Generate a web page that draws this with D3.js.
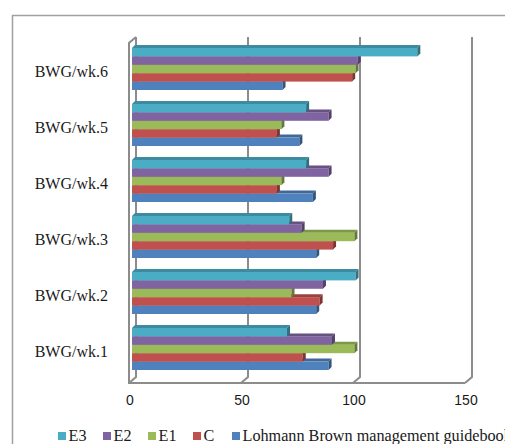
<!DOCTYPE html>
<html>
<head>
<meta charset="utf-8">
<script src="https://cdn.jsdelivr.net/npm/d3@7"></script>
<style>
  body { margin: 0; background: #fff; }
  svg { display: block; }
  .serif { font-family: 'Liberation Serif', 'DejaVu Serif', 'Noto Serif', serif; }
  .sans { font-family: 'Liberation Sans', 'DejaVu Sans', sans-serif; }
</style>
</head>
<body>
<div id="chart"></div>
<script>
// Data (body weight gain per week)
let categories = ['BWG/wk.1', 'BWG/wk.2', 'BWG/wk.3', 'BWG/wk.4', 'BWG/wk.5', 'BWG/wk.6'];
let seriesNames = ['E3', 'E2', 'E1', 'C', 'Lohmann Brown management guidebook'];
let valuesE3 = [69, 99.5, 70, 77.5, 77.5, 127];
let valuesE2 = [89, 85, 75.5, 87.5, 87.5, 100.5];
let valuesE1 = [99, 71, 99, 66.5, 66.5, 99.5];
let valuesC = [76, 83.5, 89.5, 64.5, 64.5, 98];
let valuesL = [87.5, 82, 82, 80.5, 74.5, 67];
let ticks = [0, 50, 100, 150];

let seriesValues = [valuesE3, valuesE2, valuesE1, valuesC, valuesL];
let colors = ['#4BACC6', '#8064A2', '#9BBB59', '#C0504D', '#4F81BD'];

let width = 505;
let height = 444;
let DX = 7, DY = -6;   // depth of the 3D walls
let BD = 3;            // depth of a bar

let svg = d3.select('#chart').append('svg')
    .attr('width', width)
    .attr('height', height);

// outer chart border (right/bottom are off the picture)
svg.append('path')
    .attr('d', 'M12.5,444 L12.5,15.5 L505,15.5')
    .attr('fill', 'none')
    .attr('stroke', '#a0a0a0')
    .attr('stroke-width', 1.5);

// scales: front of floor, back wall, and the bars in the middle
let xFront = d3.scaleLinear().domain([0, 150]).range([129, 465]);
let xBack = v => xFront(v) + DX;
let xBar = d3.scaleLinear().domain([0, 150]).range([132, 469]);

let yBand = d3.scaleBand()
    .domain(categories.slice().reverse())
    .range([41, 377])
    .paddingInner(0.25)
    .paddingOuter(0.125);

let ySeries = d3.scaleBand()
    .domain(seriesNames)
    .range([0, yBand.bandwidth()]);

let floorY = 383;
let topY = 43;
let grid = svg.append('g')
    .attr('fill', 'none')
    .attr('stroke', '#8c8c8c')
    .attr('stroke-width', 2);

// back wall gridlines with their floor diagonals
ticks.forEach(v => {
  grid.append('path')
      .attr('d', `M${xBack(v)},${topY + DY} L${xBack(v)},${floorY + DY} L${xFront(v)},${floorY}`);
});

// floor front edge and left wall
grid.append('path')
    .attr('d', `M${xFront(150)},${floorY} L${xFront(0)},${floorY} L${xFront(0)},${topY} L${xBack(0)},${topY + DY}`);

// bars, drawn bottom series first so upper bars cover lower top faces
let bars = svg.append('g');
categories.forEach((cat, ci) => {
  for (let si = seriesNames.length - 1; si >= 0; si--) {
    let v = seriesValues[si][ci];
    let y = yBand(cat) + ySeries(seriesNames[si]);
    let h = ySeries.bandwidth();
    let x0 = xBar(0), x1 = xBar(v);
    let c = d3.color(colors[si]);
    let g = bars.append('g');
    g.append('rect')
        .attr('x', x0).attr('y', y)
        .attr('width', x1 - x0).attr('height', h)
        .attr('fill', c);
    g.append('path')
        .attr('d', `M${x0},${y} L${x0 + BD},${y - BD} L${x1 + BD},${y - BD} L${x1},${y} Z`)
        .attr('fill', c.darker(0.6));
    g.append('path')
        .attr('d', `M${x1},${y} L${x1 + BD},${y - BD} L${x1 + BD},${y + h - BD} L${x1},${y + h} Z`)
        .attr('fill', c.darker(1.2));
  }
});

// category labels
svg.append('g').selectAll('text').data(categories).enter().append('text')
    .attr('class', 'serif')
    .attr('x', 108)
    .attr('y', d => yBand(d) + yBand.bandwidth() / 2 + 8)
    .attr('text-anchor', 'end')
    .style('font-size', '16px')
    .attr('fill', '#1a1a1a')
    .text(d => d);

// value axis labels
svg.append('g').selectAll('text').data(ticks).enter().append('text')
    .attr('class', 'sans')
    .attr('x', d => xFront(d) + 1)
    .attr('y', 405)
    .attr('text-anchor', 'middle')
    .style('font-size', '14px')
    .attr('fill', '#1a1a1a')
    .text(d => d);

// legend
let legendX = [58, 103, 148, 193, 232];
let legend = svg.append('g').selectAll('g').data(seriesNames).enter().append('g')
    .attr('transform', (d, i) => `translate(${legendX[i]}, 432)`);
legend.append('rect')
    .attr('width', 8).attr('height', 8)
    .attr('fill', (d, i) => colors[i]);
legend.append('text')
    .attr('class', 'serif')
    .attr('x', 10.5)
    .attr('y', 8.5)
    .style('font-size', '16.2px')
    .attr('fill', '#1a1a1a')
    .text(d => d);
</script>
</body>
</html>
